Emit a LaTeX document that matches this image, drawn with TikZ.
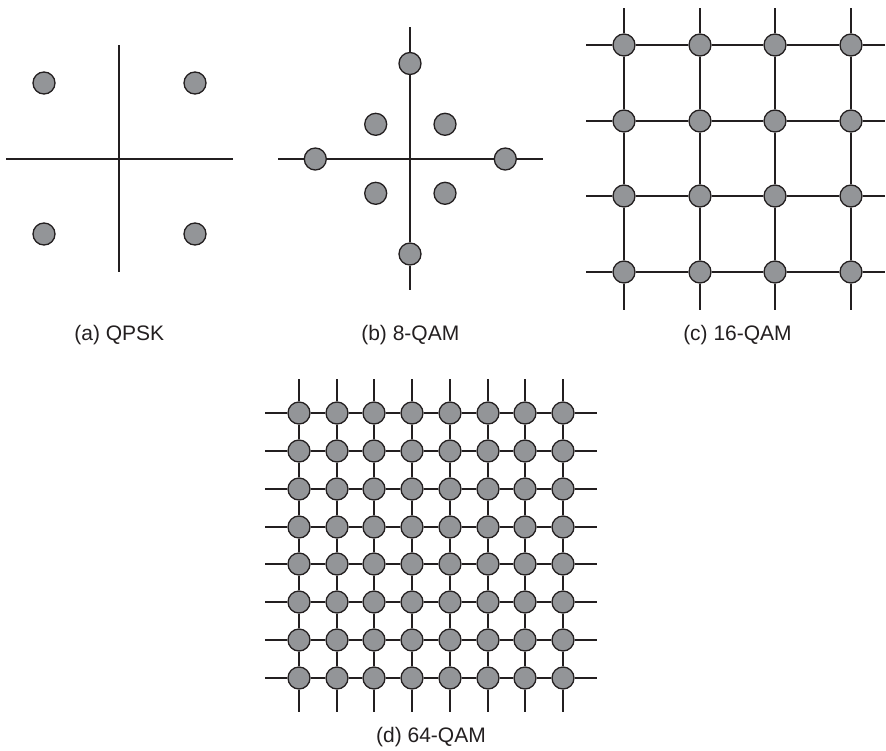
\documentclass[tikz,border=0pt]{standalone}
\usepackage{fontspec}
\setmainfont{Liberation Sans}
\definecolor{dotgray}{RGB}{147,149,152}
\definecolor{ink}{RGB}{35,31,32}
\begin{document}
\begin{tikzpicture}[x=1pt,y=-1pt,
  axis/.style={draw=ink,line width=2pt},
  pt/.style={circle,draw=ink,fill=dotgray,line width=1.3pt,minimum size=22pt,inner sep=0pt},
  lbl/.style={font=\fontsize{21}{25}\selectfont,text=ink,inner sep=0pt}]
\useasboundingbox (0,0) rectangle (886,750);

% (a) QPSK
\coordinate (aL) at (6,159);
\coordinate (aR) at (233,159);
\coordinate (aT) at (119,45);
\coordinate (aB) at (119,272);
\draw[axis] (aL) -- (aR);
\draw[axis] (aT) -- (aB);
\node[pt] (a1) at (44,83) {};
\node[pt] (a2) at (195,83) {};
\node[pt] (a3) at (44,234) {};
\node[pt] (a4) at (195,234) {};
\node[lbl] (la) at (119.3,335) {(a) QPSK};

% (b) 8-QAM
\coordinate (bL) at (278,159);
\coordinate (bR) at (543,159);
\coordinate (bT) at (410,27);
\coordinate (bB) at (410,290);
\node[pt] (bt) at (410,63.5) {};
\node[pt] (bb) at (410,254) {};
\node[pt] (bl) at (315.3,159) {};
\node[pt] (br) at (505.3,159) {};
\node[pt] (b1) at (375.7,124.3) {};
\node[pt] (b2) at (445,124.3) {};
\node[pt] (b3) at (375.7,193.3) {};
\node[pt] (b4) at (445,193.3) {};
\draw[axis] (bL) -- (bl) -- (br) -- (bR);
\draw[axis] (bT) -- (bt) -- (bb) -- (bB);
\node[lbl] (lb) at (410.3,335) {(b) 8-QAM};

% (c) 16-QAM
\foreach \x [count=\i from 0] in {624,700,775,851}{
  \foreach \y [count=\j from 0] in {45,121,196,272}{
    \node[pt] (c\i\j) at (\x,\y) {};
  }
}
\foreach \y [count=\j from 0] in {45,121,196,272}{
  \coordinate (cW\j) at (586,\y);
  \coordinate (cE\j) at (885,\y);
  \draw[axis] (cW\j) -- (c0\j) -- (c1\j) -- (c2\j) -- (c3\j) -- (cE\j);
}
\foreach \x [count=\i from 0] in {624,700,775,851}{
  \coordinate (cN\i) at (\x,8);
  \coordinate (cS\i) at (\x,310);
  \draw[axis] (cN\i) -- (c\i0) -- (c\i1) -- (c\i2) -- (c\i3) -- (cS\i);
}
\node[lbl] (lc) at (737.5,335) {(c) 16-QAM};

% (d) 64-QAM
\foreach \x [count=\i from 0] in {299,337,374,412,450,488,525,563}{
  \foreach \y [count=\j from 0] in {413,451,489,527,564,602,640,678}{
    \node[pt] (d\i\j) at (\x,\y) {};
  }
}
\foreach \y [count=\j from 0] in {413,451,489,527,564,602,640,678}{
  \coordinate (dW\j) at (265,\y);
  \coordinate (dE\j) at (597,\y);
  \draw[axis] (dW\j) -- (d0\j) -- (d1\j) -- (d2\j) -- (d3\j) -- (d4\j) -- (d5\j) -- (d6\j) -- (d7\j) -- (dE\j);
}
\foreach \x [count=\i from 0] in {299,337,374,412,450,488,525,563}{
  \coordinate (dN\i) at (\x,379);
  \coordinate (dS\i) at (\x,712);
  \draw[axis] (dN\i) -- (d\i0) -- (d\i1) -- (d\i2) -- (d\i3) -- (d\i4) -- (d\i5) -- (d\i6) -- (d\i7) -- (dS\i);
}
\node[lbl] (ld) at (431,737) {(d) 64-QAM};
\end{tikzpicture}
\end{document}
